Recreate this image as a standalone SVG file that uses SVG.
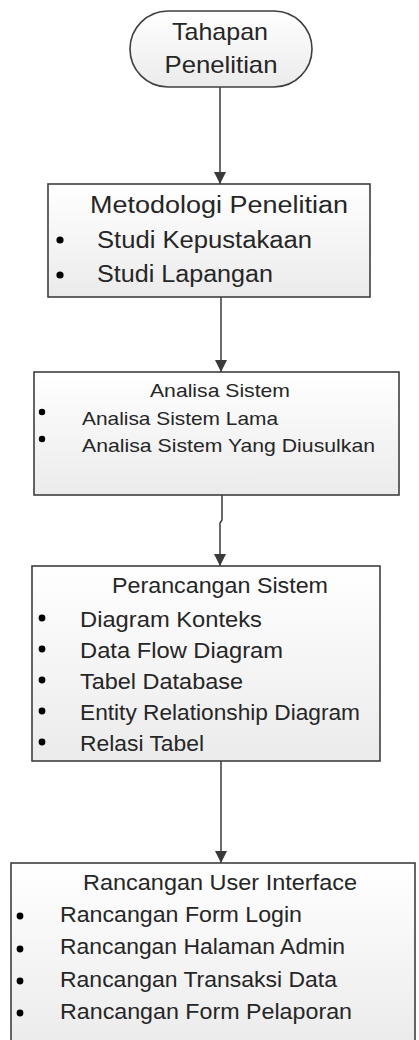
<svg xmlns="http://www.w3.org/2000/svg" width="419" height="1040" viewBox="0 0 419 1040">
<defs>
<linearGradient id="fill" x1="0" y1="0" x2="0" y2="1">
<stop offset="0" stop-color="#ffffff"/>
<stop offset="1" stop-color="#ebebeb"/>
</linearGradient>
<marker id="arr" viewBox="0 0 12 12" markerWidth="12" markerHeight="12" markerUnits="userSpaceOnUse" refX="12" refY="6" orient="auto">
<path d="M0,0 L12,6 L0,12 z" fill="#3a3a3a"/>
</marker>
</defs>
<style>
.box{fill:url(#fill);stroke:#3f3f3f;stroke-width:1.6}
.t{font-family:"Liberation Sans",Arial,sans-serif;fill:#262626}
.c{text-anchor:middle}
.b{fill:#000}
.conn{stroke:#3a3a3a;stroke-width:1.5;fill:none;marker-end:url(#arr)}
</style>
<rect width="419" height="1040" fill="#ffffff"/>
<g id="connectors">
<path class="conn" d="M220,87 L220,184"/>
<path class="conn" d="M221,297 L221,372"/>
<path class="conn" d="M222,495 L222,520 L220,523 L220,566"/>
<path class="conn" d="M221,761 L221,863"/>
</g>
<g id="start">
<rect class="box" x="130" y="11" width="182" height="76" rx="38" ry="38"/>
<text class="t c" x="220" y="40" font-size="24" textLength="96" lengthAdjust="spacingAndGlyphs">Tahapan</text>
<text class="t c" x="221" y="73" font-size="24" textLength="113" lengthAdjust="spacingAndGlyphs">Penelitian</text>
</g>
<g id="metodologi">
<rect class="box" x="48" y="184" width="322" height="113"/>
<text class="t c" x="219" y="213" font-size="23" textLength="258" lengthAdjust="spacingAndGlyphs">Metodologi Penelitian</text>
<circle class="b" cx="60" cy="240" r="3.6"/>
<text class="t" x="97" y="248" font-size="23" textLength="215" lengthAdjust="spacingAndGlyphs">Studi Kepustakaan</text>
<circle class="b" cx="60" cy="275" r="3.6"/>
<text class="t" x="97" y="282" font-size="23" textLength="176" lengthAdjust="spacingAndGlyphs">Studi Lapangan</text>
</g>
<g id="analisa">
<rect class="box" x="34" y="372" width="365" height="123"/>
<text class="t c" x="220" y="397" font-size="19" textLength="140" lengthAdjust="spacingAndGlyphs">Analisa Sistem</text>
<circle class="b" cx="42" cy="412" r="3.2"/>
<text class="t" x="82" y="425" font-size="19" textLength="196" lengthAdjust="spacingAndGlyphs">Analisa Sistem Lama</text>
<circle class="b" cx="42" cy="439" r="3.2"/>
<text class="t" x="82" y="452" font-size="19" textLength="293" lengthAdjust="spacingAndGlyphs">Analisa Sistem Yang Diusulkan</text>
</g>
<g id="perancangan">
<rect class="box" x="32" y="566" width="348" height="195"/>
<text class="t c" x="220" y="593" font-size="22" textLength="216" lengthAdjust="spacingAndGlyphs">Perancangan Sistem</text>
<circle class="b" cx="42" cy="618" r="3.4"/>
<text class="t" x="80" y="627" font-size="22" textLength="182" lengthAdjust="spacingAndGlyphs">Diagram Konteks</text>
<circle class="b" cx="42" cy="649" r="3.4"/>
<text class="t" x="80" y="658" font-size="22" textLength="203" lengthAdjust="spacingAndGlyphs">Data Flow Diagram</text>
<circle class="b" cx="42" cy="680" r="3.4"/>
<text class="t" x="80" y="689" font-size="22" textLength="163" lengthAdjust="spacingAndGlyphs">Tabel Database</text>
<circle class="b" cx="42" cy="711" r="3.4"/>
<text class="t" x="80" y="720" font-size="22" textLength="280" lengthAdjust="spacingAndGlyphs">Entity Relationship Diagram</text>
<circle class="b" cx="42" cy="742" r="3.4"/>
<text class="t" x="80" y="751" font-size="22" textLength="124" lengthAdjust="spacingAndGlyphs">Relasi Tabel</text>
</g>
<g id="rancangan-ui">
<rect class="box" x="11" y="863" width="404" height="185"/>
<text class="t c" x="220" y="890" font-size="22" textLength="274" lengthAdjust="spacingAndGlyphs">Rancangan User Interface</text>
<circle class="b" cx="20" cy="916" r="3.4"/>
<text class="t" x="60" y="922" font-size="22" textLength="242" lengthAdjust="spacingAndGlyphs">Rancangan Form Login</text>
<circle class="b" cx="20" cy="949" r="3.4"/>
<text class="t" x="60" y="954" font-size="22" textLength="285" lengthAdjust="spacingAndGlyphs">Rancangan Halaman Admin</text>
<circle class="b" cx="20" cy="981" r="3.4"/>
<text class="t" x="60" y="987" font-size="22" textLength="277" lengthAdjust="spacingAndGlyphs">Rancangan Transaksi Data</text>
<circle class="b" cx="20" cy="1013" r="3.4"/>
<text class="t" x="60" y="1019" font-size="22" textLength="292" lengthAdjust="spacingAndGlyphs">Rancangan Form Pelaporan</text>
</g>
</svg>
